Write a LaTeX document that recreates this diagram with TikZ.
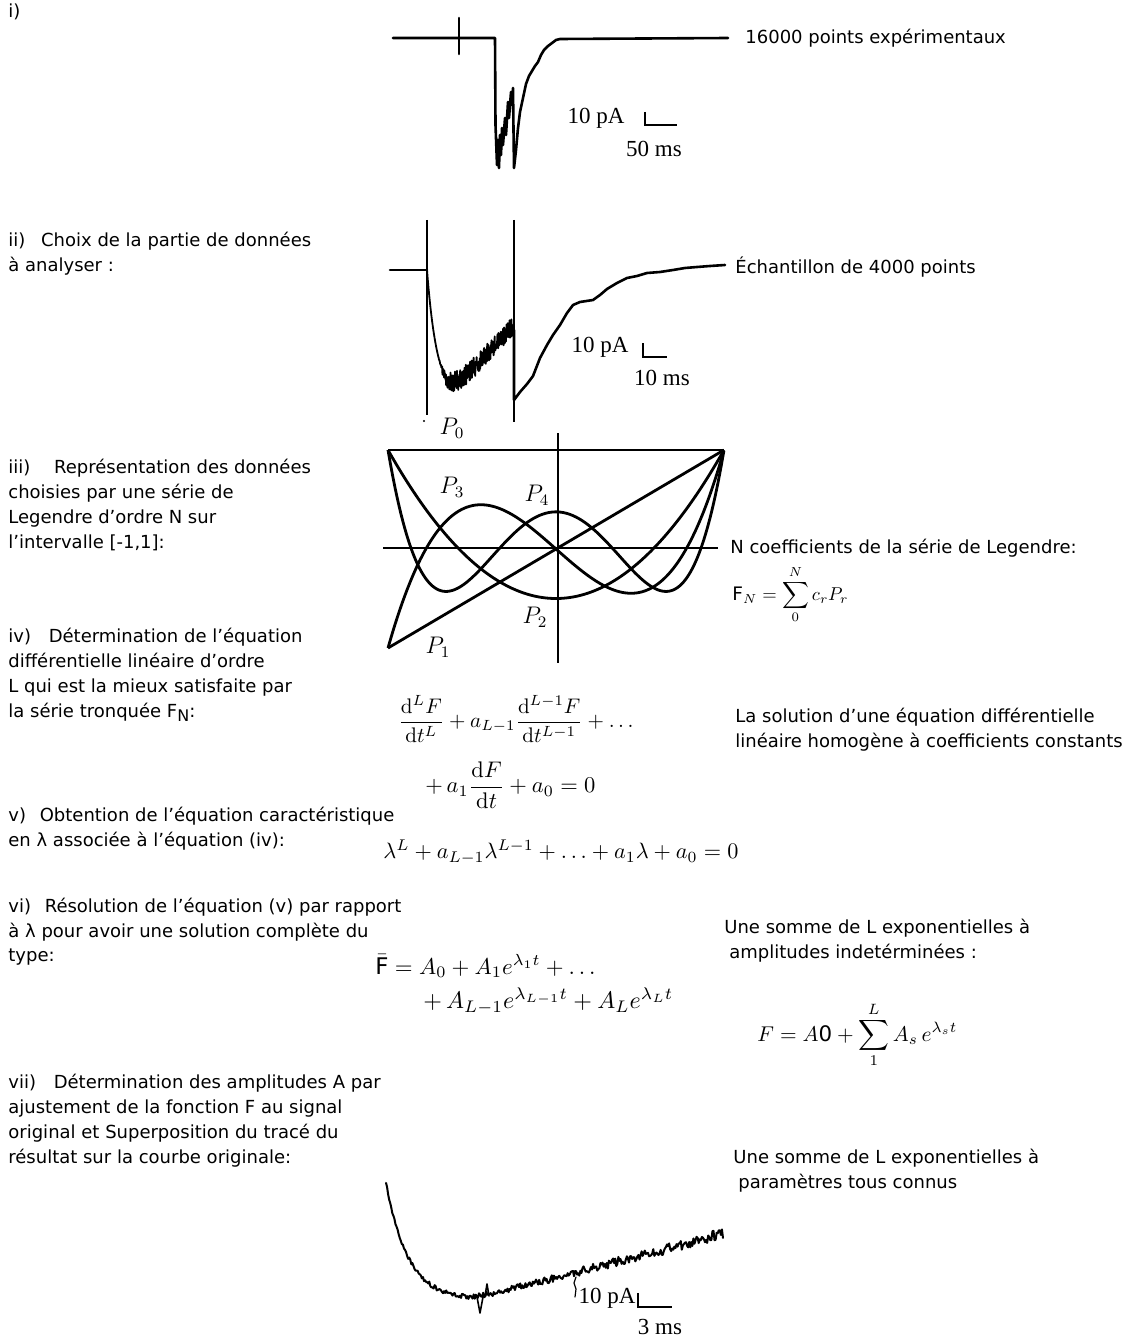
\documentclass[tikz,border=0pt]{standalone}
\usepackage[no-math]{fontspec}
\setmainfont{DejaVu Sans}
\newfontfamily\serifnum{Liberation Serif}
\usepackage{graphicx}
\tikzset{
  trace/.style={line width=1.3pt, line join=round, line cap=round},
  cursor/.style={line width=0.7pt},
  curve/.style={line width=1.4pt, line join=round},
  axis/.style={line width=0.9pt},
  lbl/.style={inner sep=0pt, anchor=north west, align=left, font=\fontsize{9}{12.5}\selectfont},
  scalebar/.style={line width=0.8pt},
  unitlbl/.style={inner sep=0pt, font=\serifnum\fontsize{11.5}{13}\selectfont},
  eq/.style={inner sep=0pt, anchor=west},
  plab/.style={inner sep=0pt, font=\fontsize{12}{14}\selectfont}
}
\begin{document}
\begin{tikzpicture}[x=0.5pt,y=-0.5pt]
\useasboundingbox (0,0) rectangle (1147,1337);
\pgfmathsetseed{7}

% ---------- left column texts ----------
\node[lbl] (ti) at (8,-0.6) {\strut i)};
\node[lbl] (tii) at (8,228.4) {\strut ii)\hspace{5pt} Choix de la partie de données\\à analyser :};
\node[lbl] (tiii) at (8,455.4) {\strut iii)\hspace{9pt} Représentation des données\\choisies par une série de\\Legendre d'ordre N sur\\l'intervalle [-1,1]:};
\node[lbl] (tiv) at (8,624.4) {\strut iv)\hspace{6pt} Détermination de l'équation\\différentielle linéaire d'ordre\\L qui est la mieux satisfaite par\\la série tronquée F\raisebox{-0.45ex}{\footnotesize N}:};
\node[lbl] (tv) at (8,803.4) {\strut v)\hspace{4pt} Obtention de l'équation caractéristique\\en λ associée à l'équation (iv):};
\node[lbl] (tvi) at (8,894.4) {\strut vi)\hspace{4pt} Résolution de l'équation (v) par rapport\\à λ pour avoir une solution complète du};
\node[lbl] (tvib) at (8,943.4) {\strut type:};
\node[lbl] (tvii) at (8,1070.4) {\strut vii)\hspace{6pt} Détermination des amplitudes A par\\ajustement de la fonction F au signal\\original et Superposition du tracé du\\résultat sur la courbe originale:};

% ---------- right column texts ----------
\node[lbl] (r1) at (745,25.4) {\strut 16000 points expérimentaux};
\node[lbl] (r2) at (735,255.4) {\strut Échantillon de 4000 points};
\node[lbl] (r3) at (730,535.4) {\strut N coefficients de la série de Legendre:};
\node[lbl] (r4) at (735,704.4) {\strut La solution d'une équation différentielle\\linéaire homogène à coefficients constants};
\node[lbl] (r5) at (724,915.4) {\strut Une somme de L exponentielles à\\\hspace{2.5pt}amplitudes indetérminées :};
\node[lbl] (r6) at (733,1145.4) {\strut Une somme de L exponentielles à\\\hspace{2.5pt}paramètres tous connus};

% ---------- equations ----------
\node[eq] (eFN) at (732,595) {\resizebox{58pt}{!}{$\mbox{F}_N = \displaystyle\sum_0^N c_r P_r$}};
\node[eq] (eiv1) at (398,719) {\resizebox{117.5pt}{!}{$\displaystyle\frac{\mathrm{d}^LF}{\mathrm{d}t^L} + a_{L-1}\frac{\mathrm{d}^{L-1}F}{\mathrm{d}t^{L-1}} + \ldots$}};
\node[eq] (eiv2) at (425,785) {\resizebox{85pt}{!}{$\displaystyle +\, a_1\frac{\mathrm{d}F}{\mathrm{d}t} + a_0 = 0$}};
\node[eq] (ev) at (383,852) {\resizebox{177.5pt}{!}{$\lambda^L + a_{L-1}\lambda^{L-1} + \ldots + a_1\lambda + a_0 = 0$}};
\node[eq] (evi1) at (375,966) {\resizebox{110pt}{!}{$\bar{\mbox{F}} = A_0 + A_1 e^{\lambda_1 t} + \ldots$}};
\node[eq] (evi2) at (423,1001) {\resizebox{125pt}{!}{$+\, A_{L-1}e^{\lambda_{L-1}t} + A_L e^{\lambda_L t}$}};
\node[eq] (eF) at (757,1035) {\resizebox{100pt}{!}{$F = A\mbox{0} + \displaystyle\sum_1^L A_s\, e^{\lambda_s t}$}};

% ---------- trace i ----------
\draw[trace] (393,38) -- (495,38) -- (495.5,125) -- (497,165) -- (498,140) -- (499,168) -- (500,135) -- (501,155) -- (502,128) -- (503,145) -- (505,118) -- (506,135) -- (508,102) -- (509,118) -- (511,92) -- (512,105) -- (513,88) -- (513.5,130) -- (514,168) -- (516,150) -- (518,128) -- (520,112) -- (523,98) -- (526,84) -- (529,76) -- (532,71) -- (535,66) -- (538,62) -- (541,55) -- (544,50) -- (548,46) -- (552,43) -- (556,40) -- (560,39) -- (728,38);
\draw[trace] (459,18) -- (459,54);
\draw[scalebar] (645,112) -- (645,125) -- (677,125);
\node[unitlbl] (u1a) at (596,118) {10 pA};
\node[unitlbl] (u1b) at (654,149) {50 ms};

% ---------- trace ii ----------
\draw[cursor] (427,220) -- (427,415);
\draw[cursor] (514,220) -- (514,422);
\fill (424,421) circle (1.2);
\draw[trace] (390,270) -- (427,270);
\draw[trace, line width=0.9pt] plot[domain=427:513, samples=320] (\x, {270 + 128*(1-exp(-(\x-427)/10)) - 1.1*max(0,\x-447) + max(0,min(1,(\x-438)/12))*10*rand});
\draw[trace] (514,330) -- (514,400) -- (520,392) -- (527,384) -- (533,376) -- (540,358) -- (547,345) -- (553,335) -- (560,325) -- (567,313) -- (573,305) -- (580,302) -- (593,300) -- (600,295) -- (607,289) -- (617,283) -- (627,278) -- (637,276) -- (647,273) -- (660,272) -- (673,270) -- (685,268) -- (697,267) -- (710,266) -- (725,265);
\draw[scalebar] (643,343) -- (643,357) -- (667,357);
\node[unitlbl] (u2a) at (600,347) {10 pA};
\node[unitlbl] (u2b) at (662,378) {10 ms};
\node[plab] (p0) at (452,428) {$P_0$};

% ---------- Legendre plot iii ----------
\draw[axis] (383,548) -- (718,548);
\draw[axis] (558,433) -- (558,663);
\draw[curve] (388,450) -- (724,450);
\draw[curve] (388,648) -- (724,450);
\draw[curve] plot[domain=-1:1, samples=120, smooth] ({556+168*\x},{549-99*(1.5*\x*\x-0.5)});
\draw[curve] plot[domain=-1:1, samples=120, smooth] ({556+168*\x},{549-99*(2.5*\x*\x*\x-1.5*\x)});
\draw[curve] plot[domain=-1:1, samples=160, smooth] ({556+168*\x},{549-99*((35*\x*\x*\x*\x-30*\x*\x+3)/8)});
\node[plab] (p3) at (452,487) {$P_3$};
\node[plab] (p4) at (537,495) {$P_4$};
\node[plab] (p2) at (535,617) {$P_2$};
\node[plab] (p1) at (438,647) {$P_1$};

% ---------- trace vii ----------
\draw[trace, line width=1pt] plot[domain=386:723, samples=320] (\x,{1300 - 117*exp(-(\x-386)/22) - 0.26*max(0,\x-470) + (1.5+4.5*(\x-386)/337)*rand});
\draw[trace, line width=0.8pt] (477,1297) -- (480,1313) -- (483,1297);
\draw[trace, line width=0.8pt] (485,1296) -- (487,1284) -- (489,1296);
\draw[trace, line width=0.6pt] (576,1277) -- (574,1283) -- (576,1289) -- (575,1297);
\draw[scalebar] (638,1293) -- (638,1307) -- (672,1307);
\node[unitlbl] (u3a) at (607,1298) {10 pA};
\node[unitlbl] (u3b) at (660,1327) {3 ms};
\end{tikzpicture}
\end{document}
